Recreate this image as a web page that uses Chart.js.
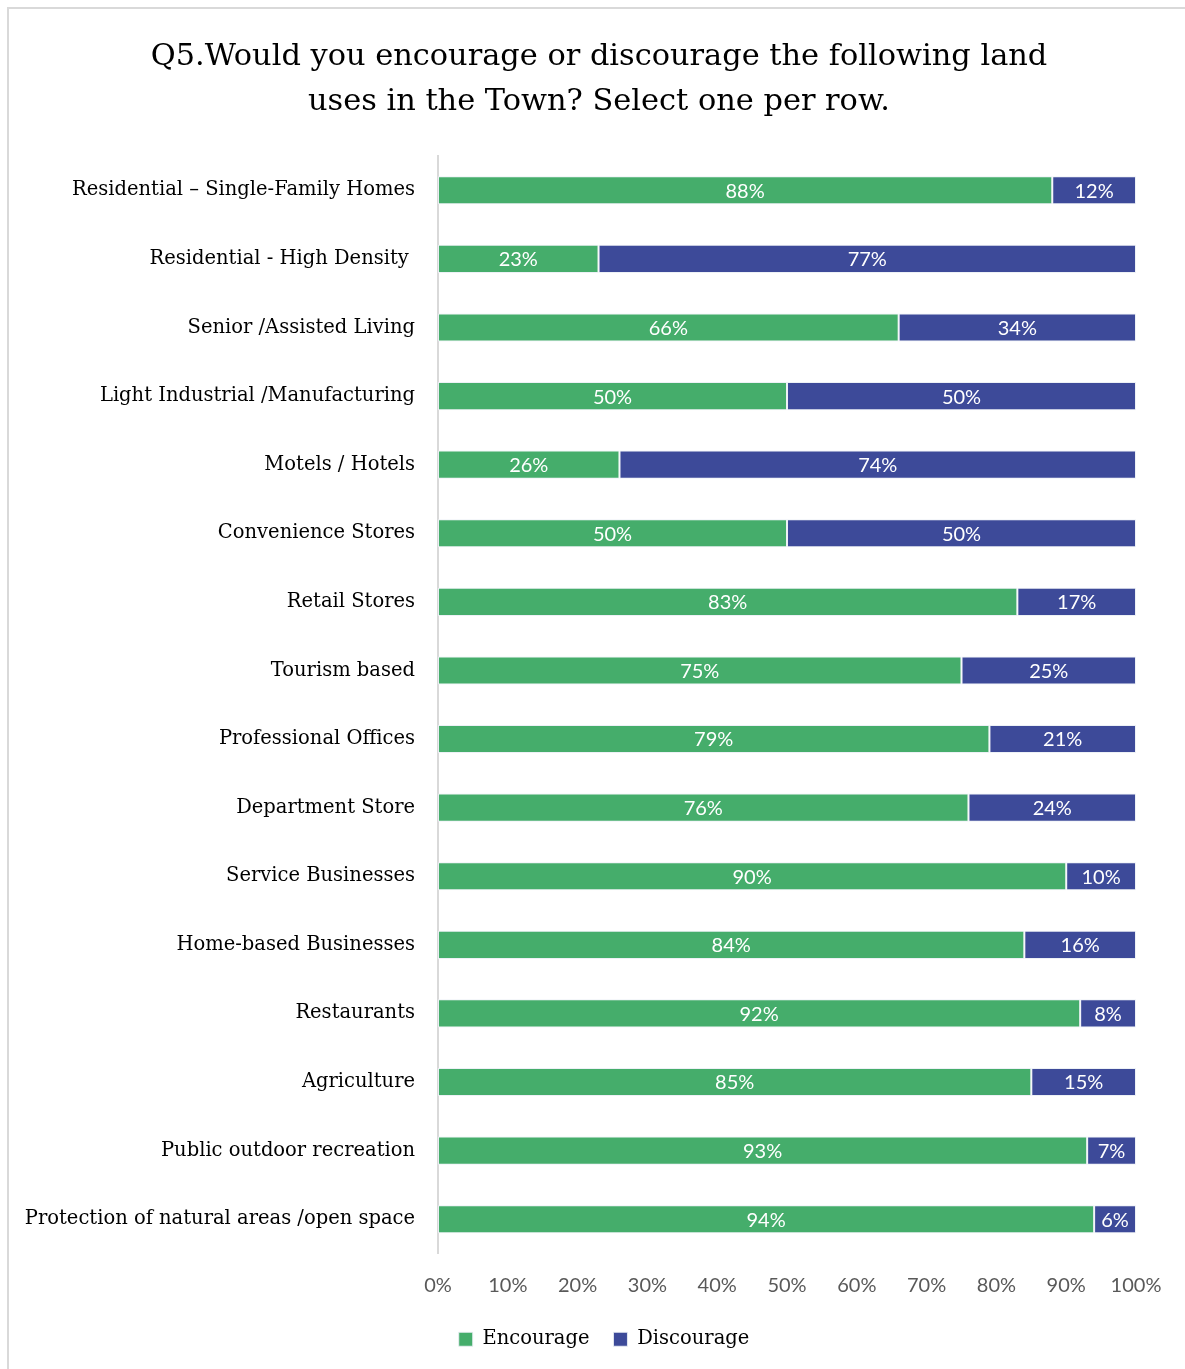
<!DOCTYPE html>
<html>
<head>
<meta charset="utf-8">
<script src="https://cdn.jsdelivr.net/npm/chart.js@4/dist/chart.umd.min.js"></script>
<style>
  html, body { margin: 0; padding: 0; background: #ffffff; overflow: hidden; }
  #frame { position: absolute; left: 7px; top: 7px; width: 1185px; height: 1369px; border: 2px solid #d9d9d9; box-sizing: border-box; }
  #c { position: absolute; left: 0; top: 0; }
</style>
</head>
<body>
<div id="frame"></div>
<canvas id="c" width="1185" height="1369"></canvas>
<script>
const categories = [
  "Residential \u2013 Single-Family Homes",
  "Residential - High Density ",
  "Senior /Assisted Living",
  "Light Industrial /Manufacturing",
  "Motels / Hotels",
  "Convenience Stores",
  "Retail Stores",
  "Tourism based",
  "Professional Offices",
  "Department Store",
  "Service Businesses",
  "Home-based Businesses",
  "Restaurants",
  "Agriculture",
  "Public outdoor recreation",
  "Protection of natural areas /open space"
];
const encourage = [88, 23, 66, 50, 26, 50, 83, 75, 79, 76, 90, 84, 92, 85, 93, 94];
const discourage = [12, 77, 34, 50, 74, 50, 17, 25, 21, 24, 10, 16, 8, 15, 7, 6];
const xTicks = [0, 10, 20, 30, 40, 50, 60, 70, 80, 90, 100];
const titleLines = [
  "Q5.Would you encourage or discourage the following land",
  "uses in the Town? Select one per row."
];

const SERIF = "'DejaVu Serif', serif";
const SANS = "Lato, 'Liberation Sans', sans-serif";

const barLabels = {
  id: 'barLabels',
  afterDatasetsDraw(chart) {
    const ctx = chart.ctx;
    ctx.save();
    ctx.fillStyle = '#ffffff';
    ctx.font = "20px " + SANS;
    ctx.textAlign = 'center';
    ctx.textBaseline = 'middle';
    chart.data.datasets.forEach((ds, di) => {
      const meta = chart.getDatasetMeta(di);
      meta.data.forEach((bar, i) => {
        const v = ds.data[i];
        const x = (bar.x + bar.base) / 2;
        ctx.fillText(v + '%', x, bar.y + 1);
      });
    });
    ctx.restore();
  }
};

// center title and legend over the frame like the original, not over the canvas
const shiftBlocks = {
  id: 'shiftBlocks',
  afterLayout(chart) {
    const t = chart.titleBlock;
    if (t) { t.left += 62; t.width = t.right - t.left; }
    const l = chart.legend;
    if (l) { l.left += 72; l.width = l.right - l.left; }
  }
};

new Chart(document.getElementById('c'), {
  type: 'bar',
  data: {
    labels: categories,
    datasets: [
      { label: 'Encourage', data: encourage, backgroundColor: '#45ad6b', borderColor: 'rgba(235,240,245,0.9)', borderWidth: 1, borderSkipped: false },
      { label: 'Discourage', data: discourage, backgroundColor: '#3d4a99', borderColor: 'rgba(235,240,245,0.9)', borderWidth: 1, borderSkipped: false }
    ]
  },
  options: {
    indexAxis: 'y',
    responsive: false,
    animation: false,
    devicePixelRatio: 1,
    layout: { padding: { left: 0, right: 49, top: 0, bottom: 10 } },
    datasets: { bar: { barPercentage: 0.41, categoryPercentage: 1.0 } },
    scales: {
      x: {
        stacked: true,
        min: 0, max: 100,
        afterBuildTicks(scale) { scale.ticks = xTicks.map(v => ({ value: v })); },
        afterFit(scale) { scale.height = 52; },
        ticks: {
          callback: v => v + '%',
          color: '#595959',
          font: { family: SANS, size: 20 },
          padding: 20,
          maxRotation: 0
        },
        grid: { display: false, drawTicks: false },
        border: { display: false }
      },
      y: {
        stacked: true,
        afterFit(scale) { scale.width = 438; },
        ticks: {
          color: '#000000',
          font: { family: SERIF, size: 19.5 },
          padding: 23
        },
        grid: { display: false, drawTicks: false },
        border: { display: true, color: '#d9d9d9', width: 2 }
      }
    },
    plugins: {
      title: {
        display: true,
        text: titleLines,
        color: '#000000',
        font: { family: SERIF, size: 30.4, weight: 'normal', lineHeight: 1.48 },
        padding: { top: 35, bottom: 31 }
      },
      legend: {
        position: 'bottom',
        labels: {
          color: '#000000',
          font: { family: SERIF, size: 19.5 },
          boxWidth: 14,
          boxHeight: 14,
          padding: 24,
          useBorderRadius: false
        }
      },
      tooltip: { enabled: false }
    }
  },
  plugins: [barLabels, shiftBlocks]
});
</script>
</body>
</html>
